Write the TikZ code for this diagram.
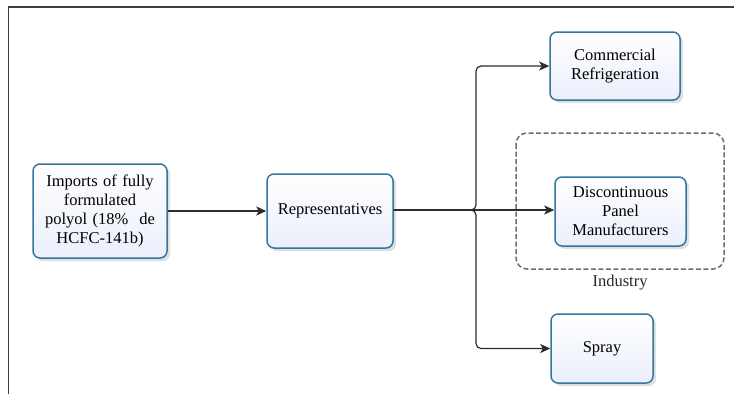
\documentclass[tikz,border=0pt]{standalone}
\usepackage{fontspec}
\setmainfont{Liberation Serif}
\usetikzlibrary{arrows.meta,shadows}

\definecolor{boxline}{RGB}{52,118,158}
\definecolor{boxfill}{RGB}{234,239,251}
\definecolor{dashgray}{RGB}{110,110,110}
\definecolor{linegray}{RGB}{45,45,45}

\tikzset{
    block/.style={draw=boxline, line width=1.5pt, rounded corners=7pt,
        top color=white, bottom color=boxfill, align=center,
        drop shadow={shadow xshift=3pt, shadow yshift=-3pt, opacity=0.25},
        font=\fontsize{16.5}{19}\selectfont, inner sep=2pt},
    link/.style={draw=linegray, line width=1.2pt, -{Stealth[length=10pt,width=9pt,inset=2.5pt]}}
}

\begin{document}
\begin{tikzpicture}[x=1pt,y=-1pt]
    \useasboundingbox (0,0) rectangle (734,394);
    % frame
    \draw[line width=1.8pt, color=black!75] (8.5,394) -- (8.5,7) -- (734,7);

    \node[block, minimum width=134pt, minimum height=94pt, text width=130pt] (imports) at (100,211)
        {Imports of fully\\ formulated\\ polyol (18\%~~de\\ HCFC-141b)};
    \node[block, minimum width=126pt, minimum height=74pt] (reps) at (330,211) {Representatives};

    \begin{scope}[color=dashgray]
        \draw[line width=1.5pt, rounded corners=11pt, dash pattern=on 5pt off 2.5pt] (516,133) rectangle (724,269);
        \node[font=\fontsize{16.5}{19}\selectfont, color=black!85] (industry) at (620,283) {Industry};
    \end{scope}

    \node[block, minimum width=130pt, minimum height=68pt] (comm) at (615,66) {Commercial\\ Refrigeration};
    \node[block, minimum width=131pt, minimum height=69pt] (disc) at (620.5,211.5) {Discontinuous\\ Panel\\ Manufacturers};
    \node[block, minimum width=102pt, minimum height=69pt] (spray) at (602,348.5) {Spray};

    \coordinate (bus) at (476,210);

    \draw[link] (imports) -- (reps);
    \draw[link] (reps.east |- bus) -- (disc.west |- bus);
    \draw[link, rounded corners=5pt] (reps.east |- bus) -- (bus) |- (comm.west);
    \draw[link, rounded corners=5pt] (reps.east |- bus) -- (bus) |- (spray.west);
\end{tikzpicture}
\end{document}
